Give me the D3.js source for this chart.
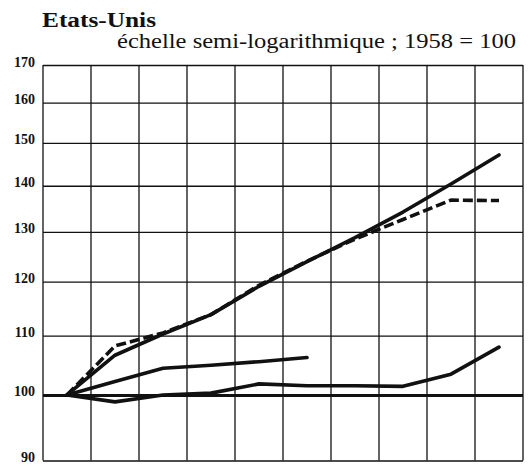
<!DOCTYPE html>
<html>
<head>
<meta charset="utf-8">
<script src="https://cdn.jsdelivr.net/npm/d3@7"></script>
<style>
  html, body { margin: 0; padding: 0; background: #fff; }
  svg { display: block; }
</style>
</head>
<body>
<svg id="chart" width="531" height="466"></svg>
<script>
// Indices (1958 = 100), United States
const years = [1958, 1959, 1960, 1961, 1962, 1963, 1964, 1965, 1966, 1967];
const tickValues = [90, 100, 110, 120, 130, 140, 150, 160, 170];
const tickLabels = ["90", "100", "110", "120", "130", "140", "150", "160", "170"];

const serieHaute   = [100, 106.6, 110.3, 113.8, 119.1, 123.9, 128.8, 134.2, 140.4, 147.1];
const serieTirets  = [100, 108.2, 110.5, 113.8, 119.3, 124.0, 128.5, 132.6, 136.8, 136.7];
const serieMoyenne = [100, 102.2, 104.4, 104.9, 105.5, 106.2];
const serieBasse   = [100, 98.9, 100.0, 100.3, 101.8, 101.5, 101.5, 101.4, 103.4, 108.0];

const titre = "Etats-Unis";
const sousTitre = "échelle semi-logarithmique ; 1958 = 100";

const serif = "'Liberation Serif', 'Times New Roman', Tinos, 'Noto Serif', 'DejaVu Serif', 'Nimbus Roman', FreeSerif, Times, serif";
const svg = d3.select("#chart");
const plotLeft = 43, plotRight = 523, plotTop = 65, plotBottom = 460.5;

const x = d3.scaleLinear().domain([years[0] - 0.5, years[years.length - 1] + 0.5]).range([plotLeft, plotRight]);
const y = d3.scaleLog().domain([90, 170]).range([plotBottom, plotTop]);

// titles
svg.append("text")
  .attr("x", 42).attr("y", 27)
  .attr("font-family", serif)
  .attr("font-size", 20).attr("font-weight", "bold").attr("fill", "#111")
  .attr("textLength", 114).attr("lengthAdjust", "spacingAndGlyphs")
  .text(titre);

svg.append("text")
  .attr("x", 117).attr("y", 47.5)
  .attr("font-family", serif)
  .attr("font-size", 20).attr("fill", "#111")
  .attr("textLength", 399).attr("lengthAdjust", "spacingAndGlyphs")
  .text(sousTitre);

// grid: vertical lines at year boundaries
const bounds = d3.range(years.length + 1).map(i => years[0] - 0.5 + i);
svg.append("g").selectAll("line").data(bounds).join("line")
  .attr("x1", d => x(d)).attr("x2", d => x(d))
  .attr("y1", plotTop).attr("y2", plotBottom)
  .attr("stroke", "#111").attr("stroke-width", 1.3);

// horizontal lines via the y axis
const yAxis = d3.axisLeft(y).tickValues(tickValues).tickSize(-(plotRight - plotLeft))
  .tickFormat((d, i) => tickLabels[i]);
const gy = svg.append("g").attr("transform", `translate(${plotLeft},0)`).call(yAxis)
  .attr("font-family", serif).attr("font-size", 14).attr("font-weight", "bold");
gy.select(".domain").remove();
gy.selectAll(".tick line")
  .attr("stroke", "#111")
  .attr("stroke-width", d => d === 100 ? 3 : 1.3);
gy.selectAll(".tick text")
  .attr("x", -8).attr("dy", 0).attr("y", 1)
  .attr("fill", "#111");

// series
const line = d3.line().x((d, i) => x(years[i])).y(d => y(d));

function drawSerie(values, dash) {
  svg.append("path")
    .datum(values)
    .attr("d", line)
    .attr("fill", "none")
    .attr("stroke", "#111")
    .attr("stroke-width", 3.6)
    .attr("stroke-linejoin", "round")
    .attr("stroke-linecap", dash ? "butt" : "round")
    .attr("stroke-dasharray", dash || null);
}

drawSerie(serieBasse);
drawSerie(serieMoyenne);
drawSerie(serieTirets, "10,4");
drawSerie(serieHaute);
</script>
</body>
</html>
